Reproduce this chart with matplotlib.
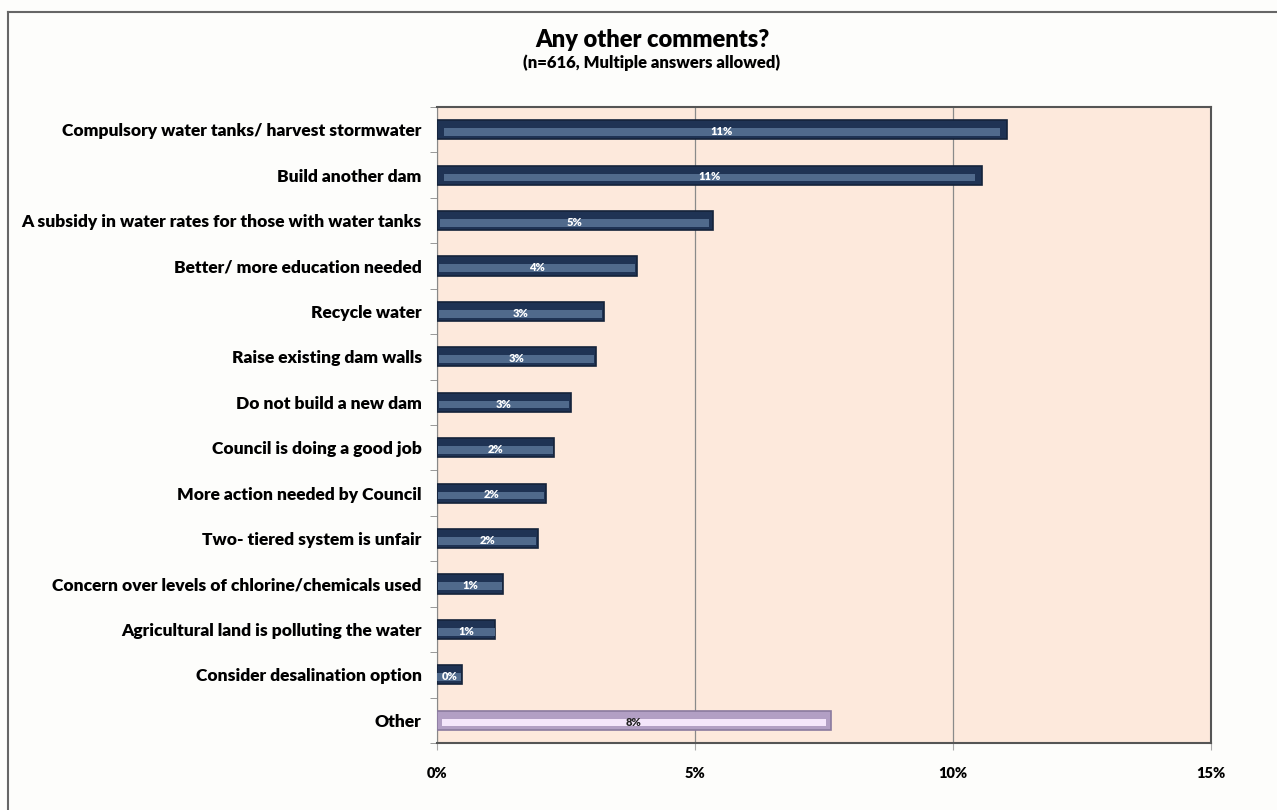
import matplotlib
matplotlib.use('Agg')
import matplotlib.pyplot as plt
from matplotlib.lines import Line2D
from matplotlib.ticker import FixedLocator

categories = [
    'Compulsory water tanks/ harvest stormwater',
    'Build another dam',
    'A subsidy in water rates for those with water tanks',
    'Better/ more education needed',
    'Recycle water',
    'Raise existing dam walls',
    'Do not build a new dam',
    'Council is doing a good job',
    'More action needed by Council',
    'Two- tiered system is unfair',
    'Concern over levels of chlorine/chemicals used',
    'Agricultural land is polluting the water',
    'Consider desalination option',
    'Other',
]
values = [11.05, 10.57, 5.34, 3.88, 3.24, 3.09, 2.59, 2.27, 2.11, 1.95, 1.28, 1.13, 0.48, 7.63]
value_labels = ['11%', '11%', '5%', '4%', '3%', '3%', '3%', '2%', '2%', '2%', '1%', '1%', '0%', '8%']
x_ticks = [0, 5, 10, 15]

plt.rcParams['font.family'] = ['Lato', 'DejaVu Sans']

fig = plt.figure(figsize=(12.77, 8.10), dpi=100)
fig.patch.set_facecolor('#fdfdfb')
ax = fig.add_axes([437 / 1277, 1 - 743 / 810, (1211 - 437) / 1277, (743 - 107) / 810])
ax.set_facecolor('#fde9dc')

ypos = list(range(len(categories)))
base_cols = ['#1f3354'] * (len(categories) - 1) + ['#b29fc4']
edge_cols = ['#15233a'] * (len(categories) - 1) + ['#8a7a9e']
hi_cols = ['#506a8c'] * (len(categories) - 1) + ['#f4e6fb']
txt_cols = ['white'] * (len(categories) - 1) + ['#222222']

ax.barh(ypos, values, height=0.42, color=base_cols, edgecolor=edge_cols, linewidth=1.2, zorder=3)
ax.barh([y + 0.05 for y in ypos], [v * 0.975 for v in values], height=0.17, color=hi_cols,
        linewidth=0, zorder=4, left=[v * 0.012 for v in values])

for y, v, lab, c in zip(ypos, values, value_labels, txt_cols):
    ax.text(v / 2, y + 0.04, lab, ha='center', va='center', fontsize=8, fontweight='heavy',
            color=c, zorder=5)

ax.set_xlim(0, 15)
ax.set_ylim(len(categories) - 0.5, -0.5)
ax.set_xticks(x_ticks, labels=['%d%%' % t for t in x_ticks], fontsize=10.5, fontweight='heavy')
ax.set_yticks(ypos, labels=categories, fontsize=12.5, fontweight='heavy')
ax.yaxis.set_minor_locator(FixedLocator([y - 0.5 for y in range(len(categories) + 1)]))
ax.tick_params(axis='y', which='major', length=0, pad=11)
ax.tick_params(axis='y', which='minor', length=5, color='#888888', direction='out')
ax.tick_params(axis='x', length=5, color='#aaaaaa', direction='out', pad=12)

ax.grid(axis='x', color='#8a8a8a', linewidth=0.9, zorder=1)
ax.set_axisbelow(True)
for side in ['top', 'right', 'bottom']:
    ax.spines[side].set_color('#555555')
    ax.spines[side].set_linewidth(1.5)
ax.spines['left'].set_color('#888888')

fig.text(652 / 1277, 1 - 40 / 810, 'Any other comments?', ha='center', va='center',
         fontsize=17, fontweight='heavy')
fig.text(652 / 1277, 1 - 63 / 810, '(n=616, Multiple answers allowed)', ha='center', va='center',
         fontsize=12, fontweight='heavy')

fig.add_artist(Line2D([8 / 1277, 1], [1 - 12 / 810, 1 - 12 / 810], color='#666666', linewidth=1.5,
                      transform=fig.transFigure))
fig.add_artist(Line2D([8 / 1277, 8 / 1277], [0, 1 - 12 / 810], color='#666666', linewidth=1.5,
                      transform=fig.transFigure))

plt.savefig('out.png', dpi=100, facecolor=fig.get_facecolor())
